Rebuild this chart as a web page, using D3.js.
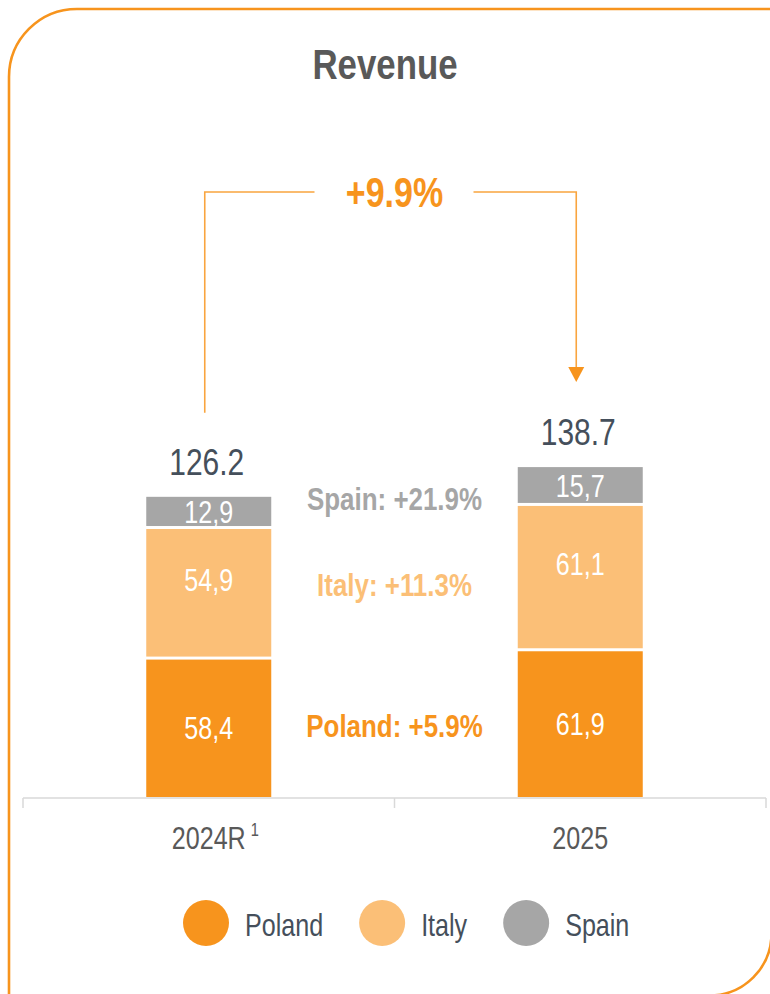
<!DOCTYPE html>
<html>
<head>
<meta charset="utf-8">
<script src="https://cdn.jsdelivr.net/npm/d3@7"></script>
<style>
  body { margin: 0; background: #fff; }
  text { font-family: "Liberation Sans Narrow", "Arial Narrow", "Liberation Sans", Arial, sans-serif; }
</style>
</head>
<body>
<div id="chart"></div>
<script>
// data
const years = ["2024R", "2025"];
const countries = ["Poland", "Italy", "Spain"];
const poland = [58.4, 61.9];
const italy = [54.9, 61.1];
const spain = [12.9, 15.7];
const totals = [126.2, 138.7];
const growth = ["+5.9%", "+11.3%", "+21.9%"];
const totalGrowth = "+9.9%";

var width = 770,
    height = 994;

var orange = "#F7941D";

// no narrow font installed, so squeeze the regular one
var K = 0.81;
const narrow = function (sel) {
    sel.each(function () {
        var t = d3.select(this);
        t.attr("x", +t.attr("x") / K)
            .attr("transform", "scale(" + K + ",1)");
    });
    return sel;
};

var svg = d3.select("#chart")
    .append("svg")
    .attr("width", width)
    .attr("height", height);

// orange frame, rounded top-left and bottom-right
var r1 = 68, r2 = 62, fx = 9, fy = 9, fr = 771.5, fb = 995.5;
svg.append("path")
    .attr("d", "M" + fx + "," + (height + 10) +
        "V" + (fy + r1) +
        "A" + r1 + "," + r1 + " 0 0 1 " + (fx + r1) + "," + fy +
        "H" + (fr + 10) +
        "M" + fr + "," + (fy - 10) +
        "V" + (fb - r2) +
        "A" + r2 + "," + r2 + " 0 0 1 " + (fr - r2) + "," + fb +
        "H" + (fx - 10))
    .attr("fill", "none")
    .attr("stroke", orange)
    .attr("stroke-width", 2.6);

svg.append("text")
    .attr("x", 385)
    .attr("y", 79)
    .attr("text-anchor", "middle")
    .style("font-size", "43px")
    .style("font-weight", "bold")
    .attr("fill", "#595959")
    .text("Revenue")
    .call(narrow);

// rows for the stack
var rows = years.map(function (year, i) {
    return { year: year, Poland: poland[i], Italy: italy[i], Spain: spain[i] };
});
var series = d3.stack().keys(countries)(rows);

var color = d3.scaleOrdinal()
    .domain(countries)
    .range([orange, "#FBBF77", "#A6A6A6"]);

// X: one band per year, ticks on band edges
var x = d3.scaleBand()
    .domain(years)
    .range([23, 766]);
var barWidth = 125;
var xc = function (year) { return x(year) + x.bandwidth() / 2; };

// Y
var y = d3.scaleLinear()
    .domain([0, 140])
    .range([797, 464]);

var axis = svg.append("g");
axis.append("line")
    .attr("x1", x.range()[0])
    .attr("x2", x.range()[1])
    .attr("y1", 798)
    .attr("y2", 798)
    .attr("stroke", "#D9D9D9")
    .attr("stroke-width", 1.5);
axis.selectAll("line.tick")
    .data(years.map(function (d) { return x(d); }).concat([x.range()[1]]))
    .enter()
    .append("line")
    .attr("class", "tick")
    .attr("x1", function (d) { return d; })
    .attr("x2", function (d) { return d; })
    .attr("y1", 798)
    .attr("y2", 808)
    .attr("stroke", "#D9D9D9")
    .attr("stroke-width", 1.5);

// stacked bars
var gap = 1.5;
var layers = svg.selectAll("g.layer")
    .data(series)
    .enter()
    .append("g")
    .attr("class", "layer")
    .attr("fill", function (d) { return color(d.key); });

layers.selectAll("rect")
    .data(function (d) { return d.map(function (p) { return { key: d.key, idx: d.index, p: p }; }); })
    .enter()
    .append("rect")
    .attr("x", function (d) { return xc(d.p.data.year) - barWidth / 2; })
    .attr("width", barWidth)
    .attr("y", function (d) {
        return y(d.p[1]) + (d.idx < countries.length - 1 ? gap : 0);
    })
    .attr("height", function (d) {
        var top = y(d.p[1]) + (d.idx < countries.length - 1 ? gap : 0);
        var bottom = y(d.p[0]) - (d.p[0] > 0 ? gap : 0);
        return bottom - top;
    });

// values inside segments
var fmtComma = function (v) { return d3.format(".1f")(v).replace(".", ","); };
layers.selectAll("text")
    .data(function (d) { return d.map(function (p) { return { key: d.key, p: p }; }); })
    .enter()
    .append("text")
    .attr("x", function (d) { return xc(d.p.data.year); })
    .attr("y", function (d) {
        var shift = d.key === "Italy" ? -13 : 0;
        return (y(d.p[0]) + y(d.p[1])) / 2 + shift;
    })
    .attr("dy", "0.36em")
    .attr("text-anchor", "middle")
    .attr("fill", "#fff")
    .style("font-size", "31px")
    .text(function (d) { return fmtComma(d.p[1] - d.p[0]); })
    .call(narrow);

// totals above bars
svg.selectAll("text.total")
    .data(totals)
    .enter()
    .append("text")
    .attr("class", "total")
    .attr("x", function (d, i) { return xc(years[i]) - 2; })
    .attr("y", function (d) { return y(d) - 22; })
    .attr("text-anchor", "middle")
    .attr("fill", "#454F5B")
    .style("font-size", "37px")
    .text(function (d) { return d3.format(".1f")(d); })
    .call(narrow);

// growth per country, between the bars
var midX = (xc(years[0]) + xc(years[1])) / 2;
svg.selectAll("text.growth")
    .data(series)
    .enter()
    .append("text")
    .attr("class", "growth")
    .attr("x", midX)
    .attr("y", function (s) {
        return d3.mean(s, function (p) { return (y(p[0]) + y(p[1])) / 2; });
    })
    .attr("dy", "0.36em")
    .attr("text-anchor", "middle")
    .attr("fill", function (s) { return color(s.key); })
    .style("font-size", "32px")
    .style("font-weight", "bold")
    .text(function (s) { return s.key + ": " + growth[s.index]; })
    .call(narrow);

// bracket arrow with total growth
var lx = xc(years[0]) - 4,
    rx = xc(years[1]) - 4,
    topY = 192,
    lineColor = "#F9A53F";
svg.append("path")
    .attr("d", "M" + lx + "," + (y(totals[0]) - 84) + "V" + topY + "H" + (midX - 80) +
        "M" + (midX + 79) + "," + topY + "H" + rx + "V" + (y(totals[1]) - 99))
    .attr("fill", "none")
    .attr("stroke", lineColor)
    .attr("stroke-width", 1.6);
var tipY = y(totals[1]) - 85;
svg.append("path")
    .attr("d", "M" + (rx - 8) + "," + (tipY - 15) + "L" + (rx + 8) + "," + (tipY - 15) + "L" + rx + "," + tipY + "Z")
    .attr("fill", orange);
svg.append("text")
    .attr("x", midX)
    .attr("y", 207)
    .attr("text-anchor", "middle")
    .attr("fill", orange)
    .style("font-size", "42px")
    .style("font-weight", "bold")
    .text(totalGrowth)
    .call(narrow);

// year labels, footnote mark on 2024R
svg.selectAll("text.year")
    .data(years)
    .enter()
    .append("text")
    .attr("class", "year")
    .attr("x", function (d) { return xc(d); })
    .attr("y", 849)
    .attr("text-anchor", "middle")
    .attr("fill", "#595959")
    .style("font-size", "31px")
    .text(function (d) { return d; })
    .call(narrow)
    .each(function (d) {
        if (d === "2024R") {
            var w = this.getComputedTextLength() * K;
            svg.append("text")
                .attr("x", xc(d) + w / 2 + 5)
                .attr("y", 836)
                .attr("fill", "#595959")
                .style("font-size", "18px")
                .text("1")
                .call(narrow);
        }
    });

// legend
var legend = svg.append("g");
var lxPos = 183;
countries.forEach(function (c) {
    legend.append("circle")
        .attr("cx", lxPos + 23)
        .attr("cy", 923)
        .attr("r", 23)
        .attr("fill", color(c));
    var t = legend.append("text")
        .attr("x", lxPos + 62)
        .attr("y", 936)
        .attr("fill", "#454F5B")
        .style("font-size", "31px")
        .text(c)
        .call(narrow);
    lxPos += 62 + t.node().getComputedTextLength() * K + 36;
});
</script>
</body>
</html>
